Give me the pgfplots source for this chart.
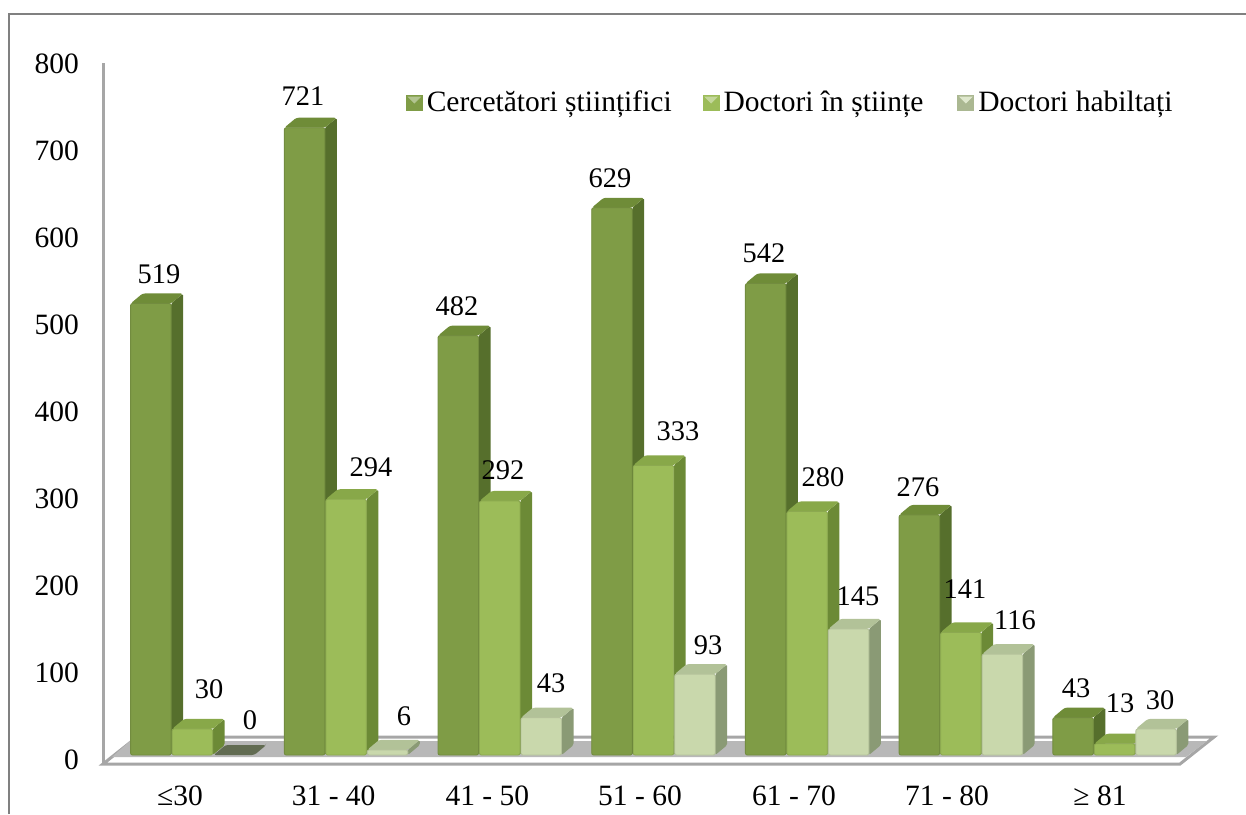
\documentclass[border=0pt]{standalone}
\usepackage{pgfplots}
\pgfplotsset{compat=1.18}
\usepackage{fontspec}
\setmainfont{Liberation Serif}
\definecolor{fa}{HTML}{7F9C46}\definecolor{sa}{HTML}{566F2C}\definecolor{ta}{HTML}{6F8C38}
\definecolor{fb}{HTML}{9CBC59}\definecolor{sb}{HTML}{6C8A36}\definecolor{tb}{HTML}{88A849}
\definecolor{fc}{HTML}{C9D8AC}\definecolor{sc}{HTML}{8A9A75}\definecolor{tc}{HTML}{B2C298}
\definecolor{zz}{HTML}{626C52}
\definecolor{axg}{HTML}{A6A6A6}\definecolor{flg}{HTML}{B8B8B8}
\newcommand{\tbar}[8]{% group, series, value, front, side, top, label x px, label y px
  \pgfmathsetmacro\Lx{130.6+153.7*#1+41.5*#2}
  \pgfmathsetmacro\Rx{\Lx+40.5}
  \pgfmathsetmacro\Rb{\Rx+12}
  \pgfmathsetmacro\Lb{\Lx+12}
  \pgfmathsetmacro\Tv{#3+11.5}
  \addplot[forget plot,draw=none,fill=#5,rounded corners=0.8pt] coordinates {(\Rx,0)(\Rb,11.5)(\Rb,\Tv)(\Rx,#3)} -- cycle;
  \addplot[forget plot,draw=none,fill=#6,rounded corners=1.2pt] coordinates {(\Lx,#3)(\Rx,#3)(\Rb,\Tv)(\Lb,\Tv)} -- cycle;
  \ifdim #3pt>0pt
  \addplot[forget plot,draw=#4!90!black,line width=0.45pt,fill=#4,rounded corners=1pt] coordinates {(\Lx,0)(\Rx,0)(\Rx,#3)(\Lx,#3)} -- cycle;
  \fi
  \pgfmathsetmacro\ly{(755-#8)/0.87}
  \edef\lbl{\noexpand\node[font=\noexpand\lblfont,inner sep=0pt,anchor=center] at (axis cs:#7,\ly) {#3};}
  \lbl
}
\newcommand{\lblfont}{\fontsize{14.2}{16}\selectfont}
\newcommand{\tickfont}{\fontsize{14.75}{16}\selectfont}
\begin{document}
\begin{tikzpicture}
\path[use as bounding box] (0,0) rectangle (623pt,407pt);
\begin{axis}[
  at={(51.5pt,25pt)},anchor=south west,
  scale only axis,width=556pt,height=352.5pt,
  xmin=103,xmax=1215,ymin=-10.3,ymax=800,
  clip=false,
  axis line style={draw=none},
  major tick length=0pt,
  tick align=outside,
  xtick={180,333.7,487.4,640,794,947,1100},
  xticklabels={≤30,31 - 40,41 - 50,51 - 60,61 - 70,71 - 80,≥ 81},
  ytick={0,100,...,800},
  /pgf/number format/assume math mode=true,
  tick label style={font=\tickfont},
  yticklabel style={yshift=-2.5pt,xshift=-8.5pt},
  xticklabel style={yshift=-7.5pt},
  legend style={at={(axis cs:406,749.4)},anchor=west,draw=none,fill=none,
    legend columns=3,font=\tickfont,inner sep=0pt,outer sep=0pt,
    /tikz/every even column/.append style={column sep=0pt}},
]
% floor and axis line
\addplot[forget plot,draw=axg,line width=1.5pt,fill=white] coordinates {(103,-10.3)(1180,-10.3)(1214,20.7)(137,20.7)} -- cycle;
\addplot[forget plot,draw=none,fill=flg] coordinates {(112,-2.3)(1186,-2.3)(1207,16.1)(130,16.1)} -- cycle;
\addplot[forget plot,draw=axg,line width=1.5pt] coordinates {(103,-10.3)(103,795)};
% series 1
\tbar{0}{0}{519}{fa}{sa}{ta}{159}{274}
\tbar{1}{0}{721}{fa}{sa}{ta}{303}{96}
\tbar{2}{0}{482}{fa}{sa}{ta}{457}{306}
\tbar{3}{0}{629}{fa}{sa}{ta}{610}{178}
\tbar{4}{0}{542}{fa}{sa}{ta}{764}{253}
\tbar{5}{0}{276}{fa}{sa}{ta}{918}{487}
\tbar{6}{0}{43}{fa}{sa}{ta}{1076}{688}
% series 2
\tbar{0}{1}{30}{fb}{sb}{tb}{209}{689}
\tbar{1}{1}{294}{fb}{sb}{tb}{371}{467}
\tbar{2}{1}{292}{fb}{sb}{tb}{503}{470}
\tbar{3}{1}{333}{fb}{sb}{tb}{678}{431}
\tbar{4}{1}{280}{fb}{sb}{tb}{823}{477}
\tbar{5}{1}{141}{fb}{sb}{tb}{965}{589}
\tbar{6}{1}{13}{fb}{sb}{tb}{1120}{703}
% series 3
\tbar{0}{2}{0}{fc}{zz}{zz}{250}{720}
\tbar{1}{2}{6}{fc}{sc}{tc}{404}{716}
\tbar{2}{2}{43}{fc}{sc}{tc}{551}{683}
\tbar{3}{2}{93}{fc}{sc}{tc}{708}{645}
\tbar{4}{2}{145}{fc}{sc}{tc}{858}{596}
\tbar{5}{2}{116}{fc}{sc}{tc}{1015}{620}
\tbar{6}{2}{30}{fc}{sc}{tc}{1160}{700}
% legend
\addlegendimage{legend image code/.code={\fill[fa] (0pt,-3.75pt) rectangle (8pt,3.75pt);\fill[fa!60!white] (1pt,3pt)--(7pt,3pt)--(4pt,0pt)--cycle;}}
\addlegendentry{Cercetători științifici\hspace*{13.5pt}}
\addlegendimage{legend image code/.code={\fill[fb] (0pt,-3.75pt) rectangle (8pt,3.75pt);\fill[fb!60!white] (1pt,3pt)--(7pt,3pt)--(4pt,0pt)--cycle;}}
\addlegendentry{Doctori în științe\hspace*{15pt}}
\addlegendimage{legend image code/.code={\fill[fc!85!black] (0pt,-3.75pt) rectangle (8pt,3.75pt);\fill[fc!60!white] (1pt,3pt)--(7pt,3pt)--(4pt,0pt)--cycle;}}
\addlegendentry{Doctori habiltați}
\end{axis}
\draw[color=black!50,line width=0.65pt] (4.5pt,0pt) -- (4.5pt,400pt) -- (623pt,400pt);
\end{tikzpicture}
\end{document}
